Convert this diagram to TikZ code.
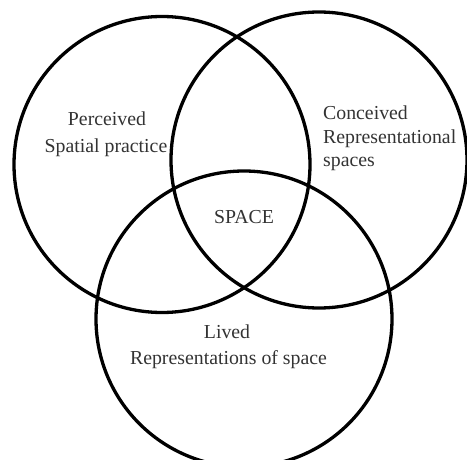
\documentclass[tikz,border=0pt]{standalone}
\usepackage{fontspec}
\setmainfont{Liberation Serif}
\begin{document}
\begin{tikzpicture}[x=1pt,y=-1pt,
  ring/.style={draw=black,line width=3.3pt,circle,minimum size=296pt,inner sep=0pt},
  lbl/.style={text=black!80,font=\fontsize{19.8pt}{23pt}\selectfont,anchor=base,inner sep=0pt}]
\useasboundingbox (0,0) rectangle (467,460);
\begin{scope}
\clip (0,0) rectangle (467,460);
\node[ring] (perc) at (162,164.5) {};
\node[ring] (conc) at (319,160) {};
\node[ring] (lived) at (244,319) {};
\end{scope}
\node[lbl] (t1) at (107,126) {Perceived};
\node[lbl] (t2) at (106,153) {Spatial practice};
\node[lbl,anchor=base west] (t3) at (323,120) {Conceived};
\node[lbl,anchor=base west] (t4) at (323,144) {Representational};
\node[lbl,anchor=base west] (t5) at (323,167) {spaces};
\node[lbl] (t6) at (244,224) {SPACE};
\node[lbl] (t7) at (227,338) {Lived};
\node[lbl] (t8) at (228.5,365) {Representations of space};
\end{tikzpicture}
\end{document}
